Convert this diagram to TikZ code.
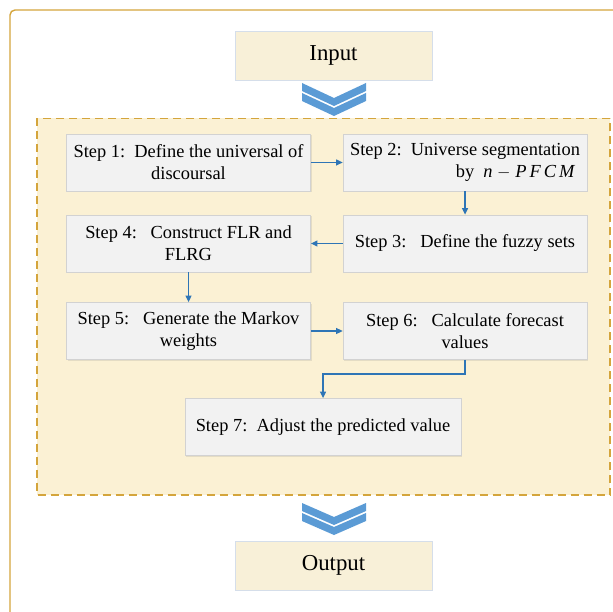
\documentclass[tikz,border=0pt]{standalone}
\usepackage{fontspec}
\setmainfont{Liberation Serif}
\usetikzlibrary{arrows.meta,shadows}
\definecolor{framegold}{HTML}{D4A53C}
\definecolor{dashfill}{HTML}{FBF1D4}
\definecolor{ioFill}{HTML}{F8F0D8}
\definecolor{ioDraw}{HTML}{D5DEEA}
\definecolor{boxFill}{HTML}{F2F2F2}
\definecolor{boxDraw}{HTML}{D2D2D2}
\definecolor{arrowblue}{HTML}{2E75B6}
\definecolor{chevblue}{HTML}{5B9BD5}
\tikzset{
  stepbox/.style={draw=boxDraw, fill=boxFill, line width=0.8pt, minimum width=244pt, minimum height=57pt, inner sep=2pt,
    font=\fontsize{18.4}{22}\selectfont, align=center,
    drop shadow={opacity=0.18, shadow xshift=1.2pt, shadow yshift=-1.2pt}},
  iobox/.style={draw=ioDraw, fill=ioFill, line width=0.8pt, minimum width=197pt, minimum height=49pt,
    font=\fontsize{22.8}{26}\selectfont},
  flow/.style={draw=arrowblue, line width=1.3pt, -{Triangle[length=6.5pt,width=6pt]}},
  chev/.style={fill=chevblue, draw=none}
}
\begin{document}
\begin{tikzpicture}[x=1pt,y=-1pt]
\useasboundingbox (0,0) rectangle (613,612);
\clip (0,0) rectangle (613,612);
% outer frame
\draw[framegold, line width=1.4pt, rounded corners=5pt] (10,10) rectangle (660,660);
% dashed frame
\draw[framegold, fill=dashfill, line width=1.5pt, dash pattern=on 8pt off 5pt] (37,118.5) rectangle (610,495);
% input / output
\node[iobox] (in) at (333.5,55.5) {Input};
\node[iobox] (out) at (333.5,565.5) {Output};
% chevrons
\foreach \y in {83,93}{
  \fill[chev] (302,\y) -- (334,\y+15) -- (366,\y) -- (366,\y+8) -- (334,\y+23) -- (302,\y+8) -- cycle;
}
\foreach \y in {503,513}{
  \fill[chev] (302,\y) -- (334,\y+14) -- (366,\y) -- (366,\y+8) -- (334,\y+22) -- (302,\y+8) -- cycle;
}
% steps
\node[stepbox] (s1) at (188.5,162.5) {Step 1:\ \ Define the universal of\\discoursal};
\node[stepbox, align=right] (s2) at (465,162.5) {Step 2:\ \ Universe segmentation\\by\ \ \textit{n}\ $-$\ \textit{P\,F\,C\,M}\ \ };
\node[stepbox] (s3) at (465,243.5) {Step 3:\ \ \ Define the fuzzy sets};
\node[stepbox] (s4) at (188.5,243.5) {Step 4:\ \ \ Construct FLR and\\FLRG};
\node[stepbox] (s5) at (188.5,331) {Step 5:\ \ \ Generate the Markov\\weights};
\node[stepbox] (s6) at (465,331) {Step 6:\ \ \ Calculate forecast\\values};
\node[stepbox, minimum width=276pt] (s7) at (323,427) {Step 7:\ \ Adjust the predicted value};
% connectors
\draw[flow] (s1) -- (s2);
\draw[flow] (s2) -- (s3);
\draw[flow] (s3) -- (s4);
\draw[flow] (s4) -- (s5);
\draw[flow] (s5) -- (s6);
\draw[flow] (s6.south) -- ++(0,14) -| (s7.north);
\end{tikzpicture}
\end{document}
